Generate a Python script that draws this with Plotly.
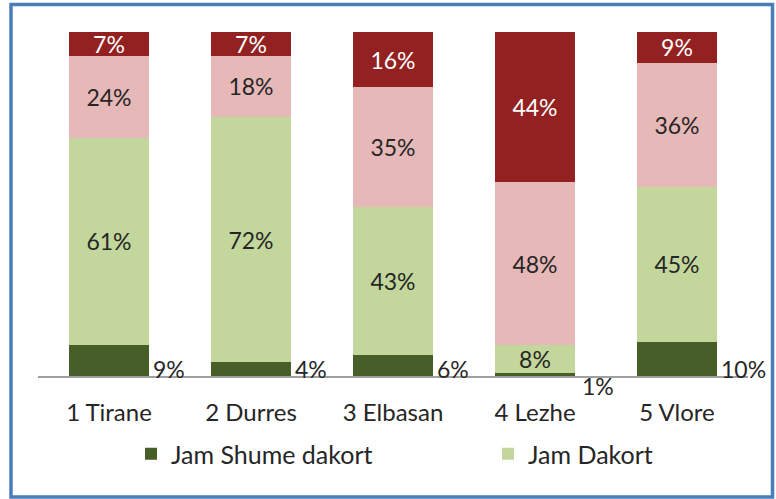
import plotly.graph_objects as go

categories = ["1 Tirane", "2 Durres", "3 Elbasan", "4 Lezhe", "5 Vlore"]
jam_shume_dakort = [9, 4, 6, 1, 10]
jam_dakort = [61, 72, 43, 8, 45]
nuk_jam_dakort = [24, 18, 35, 48, 36]
aspak_dakort = [7, 7, 16, 44, 9]

FONT = "Lato"
colors = ["#475e29", "#c3d69b", "#e6b8b7", "#932121"]

fig = go.Figure()
fig.add_trace(go.Bar(x=categories, y=jam_shume_dakort, name="Jam Shume dakort", legend="legend",
                     marker=dict(color=colors[0], line=dict(width=0))))
fig.add_trace(go.Bar(x=categories, y=jam_dakort, name="Jam Dakort", legend="legend2",
                     marker=dict(color=colors[1], line=dict(width=0)),
                     text=[f"{v}%" for v in jam_dakort], textposition="inside",
                     insidetextanchor="middle", textangle=0,
                     textfont=dict(family=FONT, size=23, color="#262626")))
fig.add_trace(go.Bar(x=categories, y=nuk_jam_dakort, name="Nuk jam dakort", showlegend=False,
                     marker=dict(color=colors[2], line=dict(width=0)),
                     text=[f"{v}%" for v in nuk_jam_dakort], textposition="inside",
                     insidetextanchor="middle", textangle=0,
                     textfont=dict(family=FONT, size=23, color="#262626")))
fig.add_trace(go.Bar(x=categories, y=aspak_dakort, name="Aspak dakort", showlegend=False,
                     marker=dict(color=colors[3], line=dict(width=0)),
                     text=[f"{v}%" for v in aspak_dakort], textposition="inside",
                     insidetextanchor="middle", textangle=0,
                     textfont=dict(family=FONT, size=23, color="white")))

annotations = []
for cat, v in zip(categories, jam_shume_dakort):
    small = v < 3
    annotations.append(dict(
        x=cat, y=0, xref="x", yref="y", text=f"{v}%", showarrow=False,
        xanchor="left", yanchor="top" if small else "bottom",
        xshift=45 if small else 42, yshift=6 if small else -9,
        font=dict(family=FONT, size=23, color="#262626")))

legend_common = dict(orientation="h", xanchor="left", yref="container",
                     y=1 - 454 / 499, yanchor="middle", bgcolor="rgba(0,0,0,0)",
                     font=dict(family=FONT, size=25, color="#262626"))

fig.update_layout(
    barmode="stack", barnorm="percent", bargap=0.43,
    width=776, height=499,
    margin=dict(l=38, r=28, t=32, b=123, autoexpand=False),
    paper_bgcolor="white", plot_bgcolor="white",
    font=dict(family=FONT, size=24, color="#262626"),
    uniformtext=dict(mode="show", minsize=23),
    xaxis=dict(showline=True, linecolor="#a0a0a0", linewidth=2, showgrid=False,
               ticks="", ticklabelstandoff=14, range=[-0.5, 4.5], autorange=False,
               tickfont=dict(family=FONT, size=24, color="#262626")),
    yaxis=dict(visible=False, range=[0, 100], autorange=False),
    legend=dict(x=(131 - 38) / 710, **legend_common),
    legend2=dict(x=(488 - 38) / 710, **legend_common),
    annotations=annotations,
    shapes=[dict(type="rect", xref="paper", yref="paper",
                 x0=(11 - 38) / 710, x1=(772.5 - 38) / 710,
                 y0=(376 - 497) / 344, y1=(376 - 4.5) / 344,
                 line=dict(color="#4a7ebb", width=3.5), fillcolor="rgba(0,0,0,0)")],
    showlegend=True,
)

fig.write_html("out.html", config={"displayModeBar": False},
               post_script="document.body.style.margin='0';document.body.style.overflow='hidden';")
